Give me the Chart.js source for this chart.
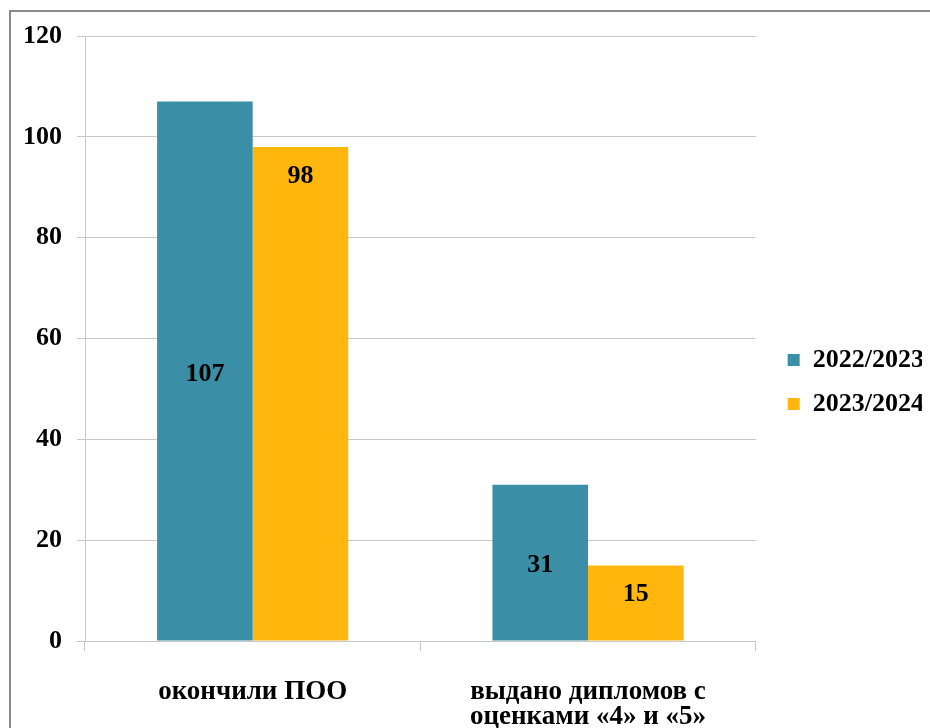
<!DOCTYPE html>
<html>
<head>
<meta charset="utf-8">
<script src="https://cdn.jsdelivr.net/npm/chart.js@4"></script>
<style>
  html, body { margin: 0; padding: 0; background: #fff; }
  body { width: 930px; height: 728px; position: relative; overflow: hidden; }
  .frame { position: absolute; left: 9px; top: 10px; width: 1000px; height: 800px; border: 2px solid #8a8a8a; }
  .wrap { position: absolute; left: 0; top: 0; width: 930px; height: 728px; }
</style>
</head>
<body>
<div class="frame"></div>
<div class="wrap"><canvas id="gradChart"></canvas></div>
<script>
// categories and values
var categories = ['окончили ПОО', ['выдано дипломов с', 'оценками «4» и «5»']];
var years = ['2022/2023', '2023/2024'];
var values2022 = [107, 31];
var values2023 = [98, 15];
var yTicks = [0, 20, 40, 60, 80, 100, 120];

var font = { family: '"Liberation Serif", "Times New Roman", serif', size: 26, weight: 'bold' };

// value labels: first series centered, second near bar top
var barLabels = {
  id: 'barLabels',
  afterDatasetsDraw: function(chart) {
    var ctx = chart.ctx;
    ctx.save();
    ctx.font = 'bold 26px "Liberation Serif", serif';
    ctx.fillStyle = '#000';
    ctx.textAlign = 'center';
    ctx.textBaseline = 'middle';
    chart.data.datasets.forEach(function(ds, i) {
      chart.getDatasetMeta(i).data.forEach(function(bar, j) {
        var y = i === 0 ? (bar.y + bar.base) / 2 + 3 : bar.y + 29;
        ctx.fillText(ds.data[j], bar.x, y);
      });
    });
    ctx.restore();
  }
};

new Chart(document.getElementById('gradChart'), {
  type: 'bar',
  data: {
    labels: categories,
    datasets: [{
      label: years[0],
      data: values2022,
      backgroundColor: '#3a8fa6',
      barPercentage: 1,
      categoryPercentage: 0.57
    }, {
      label: years[1],
      data: values2023,
      backgroundColor: '#ffb70d',
      barPercentage: 1,
      categoryPercentage: 0.57
    }]
  },
  options: {
    responsive: true,
    maintainAspectRatio: false,
    animation: false,
    layout: { padding: { left: 8, top: 36, right: 8, bottom: 0 } },
    plugins: {
      tooltip: { enabled: false },
      legend: {
        position: 'right',
        labels: { boxWidth: 12, boxHeight: 12, padding: 18, color: '#000', font: font }
      }
    },
    scales: {
      x: {
        afterFit: function(axis) { axis.height = 87; },
        grid: { drawOnChartArea: false, drawTicks: true, tickLength: 10, color: '#c8c8c8' },
        border: { color: '#c8c8c8' },
        ticks: { color: '#000', font: Object.assign({}, font, { size: 27, lineHeight: 0.93 }), padding: 28 }
      },
      y: {
        min: 0,
        max: 120,
        afterBuildTicks: function(axis) {
          axis.ticks = yTicks.map(function(v) { return { value: v }; });
        },
        grid: { color: '#c8c8c8', tickLength: 8 },
        border: { color: '#c8c8c8' },
        ticks: { color: '#000', font: font, padding: 15 }
      },
      // empty gap between plot and legend
      gap: {
        type: 'linear',
        position: 'right',
        afterFit: function(axis) { axis.width = 14; },
        grid: { display: false },
        border: { display: false },
        ticks: { display: false }
      }
    }
  },
  plugins: [barLabels]
});
</script>
</body>
</html>
